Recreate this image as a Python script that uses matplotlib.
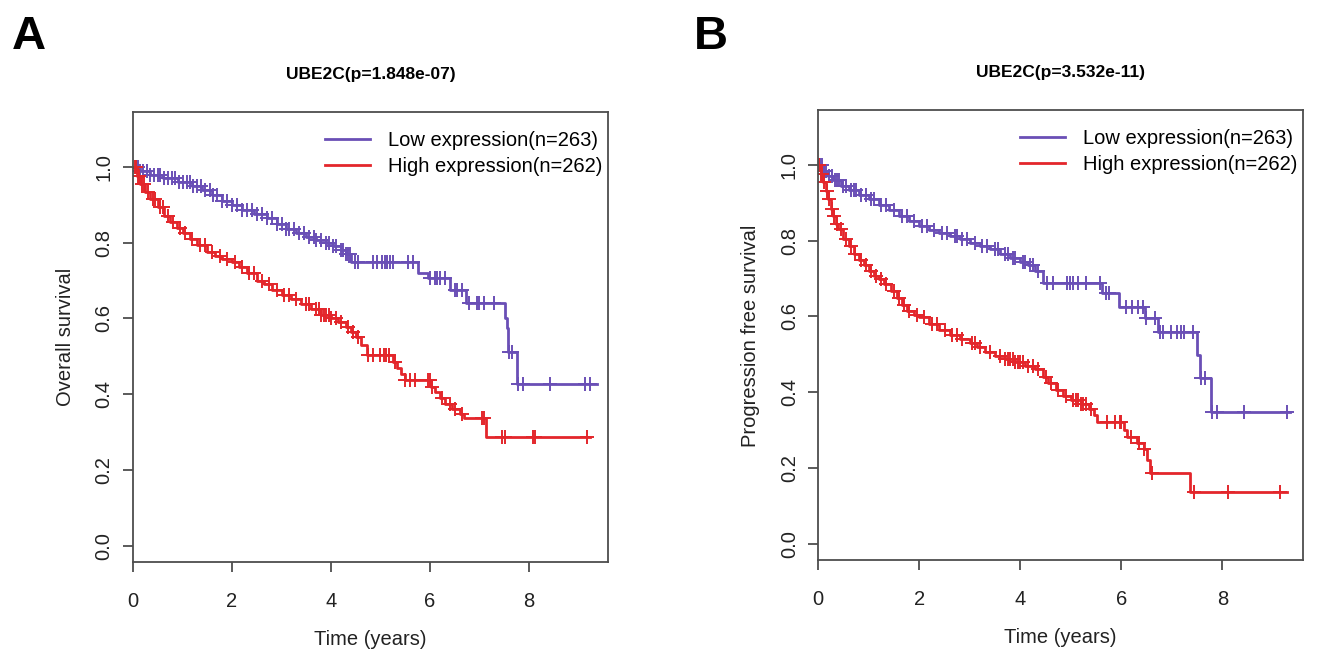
import numpy as np
import matplotlib
matplotlib.use("Agg")
import matplotlib.pyplot as plt

plt.rcParams['font.family'] = ['Liberation Sans', 'DejaVu Sans']

LOW_COLOR = '#6A4FB6'
HIGH_COLOR = '#E3262B'

# ---------------- Panel A: overall survival ----------------
a_title = "UBE2C(p=1.848e-07)"
a_ylabel = "Overall survival"
a_low_t = [0, 0.15, 0.35, 0.6, 0.9, 1.2, 1.4, 1.6, 1.8, 2.0, 2.2, 2.45, 2.7, 2.9, 3.1, 3.3,
           3.5, 3.7, 3.9, 4.05, 4.2, 4.3, 4.4, 5.75, 5.97, 6.4, 6.72, 7.52, 7.55, 7.58, 7.75, 9.37]
a_low_s = [1.0, 0.99, 0.98, 0.97, 0.96, 0.95, 0.94, 0.925, 0.91, 0.90, 0.886, 0.875, 0.866, 0.85,
           0.835, 0.825, 0.815, 0.808, 0.80, 0.79, 0.78, 0.77, 0.75, 0.72, 0.706, 0.675, 0.64,
           0.60, 0.575, 0.512, 0.427, 0.427]
a_low_cens = [0.05, 0.1, 0.15, 0.2, 0.28, 0.35, 0.42, 0.5, 0.55, 0.62, 0.7, 0.78, 0.85, 0.92, 1.0,
              1.08, 1.15, 1.22, 1.3, 1.38, 1.45, 1.55, 1.62, 1.7, 1.8, 1.9, 2.0, 2.1, 2.2, 2.3, 2.4,
              2.5, 2.6, 2.7, 2.8, 2.9, 3.0, 3.1, 3.15, 3.25, 3.35, 3.45, 3.55, 3.65, 3.7, 3.8, 3.9,
              3.95, 4.05, 4.1, 4.2, 4.25, 4.3, 4.35, 4.38, 4.48, 4.55, 4.85, 4.93, 5.03, 5.09, 5.13,
              5.19, 5.25, 5.56, 5.66, 6.0, 6.1, 6.15, 6.2, 6.3, 6.5, 6.55, 6.65, 6.78, 6.95, 7.0,
              7.1, 7.3, 7.6, 7.65, 7.78, 7.88, 8.42, 9.13, 9.23]
a_high_t = [0, 0.08, 0.15, 0.25, 0.35, 0.5, 0.62, 0.75, 0.88, 1.0, 1.15, 1.3, 1.5, 1.65, 1.8, 2.0,
            2.15, 2.3, 2.5, 2.65, 2.8, 3.0, 3.2, 3.4, 3.6, 3.8, 4.0, 4.15, 4.3, 4.4, 4.5, 4.6, 4.72,
            5.26, 5.33, 5.42, 5.5, 6.02, 6.1, 6.2, 6.3, 6.45, 6.6, 6.68, 7.14, 9.23]
a_high_s = [1.0, 0.975, 0.955, 0.935, 0.915, 0.895, 0.87, 0.855, 0.84, 0.825, 0.81, 0.795, 0.775,
            0.765, 0.757, 0.748, 0.735, 0.72, 0.70, 0.69, 0.675, 0.663, 0.652, 0.638, 0.625, 0.61,
            0.60, 0.59, 0.578, 0.565, 0.55, 0.53, 0.503, 0.485, 0.468, 0.452, 0.437, 0.42, 0.405,
            0.39, 0.375, 0.36, 0.348, 0.336, 0.288, 0.288]
a_high_cens = [0.03, 0.06, 0.1, 0.13, 0.18, 0.22, 0.3, 0.4, 0.45, 0.55, 0.6, 0.7, 0.8, 0.95, 1.05,
               1.2, 1.35, 1.45, 1.6, 1.75, 1.9, 2.05, 2.2, 2.35, 2.45, 2.6, 2.75, 2.9, 3.05, 3.15,
               3.3, 3.5, 3.55, 3.7, 3.75, 3.8, 3.85, 3.9, 3.95, 4.0, 4.1, 4.2, 4.35, 4.45, 4.55,
               4.75, 4.85, 5.0, 5.07, 5.12, 5.17, 5.3, 5.5, 5.6, 5.7, 5.96, 6.0, 6.05, 6.25, 6.4,
               6.5, 6.65, 7.05, 7.1, 7.45, 7.52, 8.09, 8.12, 9.17]

# ---------------- Panel B: progression free survival ----------------
b_title = "UBE2C(p=3.532e-11)"
b_ylabel = "Progression free survival"
b_low_t = [0, 0.1, 0.2, 0.3, 0.45, 0.6, 0.8, 1.0, 1.2, 1.4, 1.6, 1.8, 2.0, 2.2, 2.4, 2.6, 2.8, 3.0,
           3.2, 3.4, 3.6, 3.8, 4.0, 4.15, 4.3, 4.45, 5.62, 5.95, 6.46, 6.72, 7.5, 7.55, 7.77, 9.34]
b_low_s = [1.0, 0.985, 0.97, 0.96, 0.945, 0.935, 0.92, 0.91, 0.895, 0.88, 0.865, 0.852, 0.84,
           0.828, 0.82, 0.812, 0.805, 0.795, 0.785, 0.778, 0.765, 0.755, 0.745, 0.735, 0.72,
           0.688, 0.661, 0.626, 0.596, 0.56, 0.499, 0.437, 0.349, 0.349]
b_low_cens = [0.04, 0.08, 0.12, 0.16, 0.22, 0.27, 0.33, 0.38, 0.42, 0.5, 0.55, 0.65, 0.7, 0.75,
              0.85, 0.95, 1.05, 1.1, 1.25, 1.35, 1.5, 1.65, 1.75, 1.9, 2.05, 2.15, 2.3, 2.45, 2.55,
              2.7, 2.75, 2.85, 2.95, 3.1, 3.25, 3.35, 3.5, 3.55, 3.7, 3.75, 3.85, 3.9, 4.05, 4.1,
              4.2, 4.25, 4.35, 4.52, 4.65, 4.92, 4.99, 5.05, 5.15, 5.31, 5.58, 5.7, 5.75, 6.09,
              6.22, 6.32, 6.42, 6.49, 6.66, 6.76, 6.82, 6.98, 7.11, 7.18, 7.24, 7.41, 7.58, 7.65,
              7.79, 7.89, 8.42, 9.28]
b_high_t = [0, 0.05, 0.1, 0.15, 0.2, 0.25, 0.3, 0.35, 0.4, 0.5, 0.6, 0.7, 0.8, 0.9, 1.0, 1.1, 1.2,
            1.3, 1.45, 1.55, 1.65, 1.75, 1.9, 2.0, 2.2, 2.4, 2.6, 2.8, 3.0, 3.15, 3.3, 3.5, 3.7,
            3.9, 4.1, 4.3, 4.45, 4.55, 4.7, 4.85, 5.0, 5.2, 5.35, 5.45, 5.51, 6.05, 6.12, 6.3,
            6.44, 6.5, 6.57, 7.35, 9.28]
b_high_s = [1.0, 0.975, 0.955, 0.93, 0.91, 0.885, 0.865, 0.845, 0.83, 0.805, 0.785, 0.765, 0.75,
            0.735, 0.72, 0.708, 0.698, 0.685, 0.668, 0.648, 0.63, 0.615, 0.605, 0.598, 0.58,
            0.563, 0.55, 0.54, 0.53, 0.52, 0.505, 0.495, 0.488, 0.48, 0.47, 0.462, 0.44, 0.425,
            0.405, 0.39, 0.38, 0.37, 0.355, 0.34, 0.322, 0.30, 0.283, 0.265, 0.25, 0.221, 0.186,
            0.137, 0.137]
b_high_cens = [0.02, 0.05, 0.08, 0.12, 0.18, 0.22, 0.28, 0.32, 0.38, 0.45, 0.55, 0.65, 0.72, 0.85,
               0.95, 1.05, 1.15, 1.25, 1.35, 1.5, 1.6, 1.7, 1.8, 1.95, 2.1, 2.25, 2.35, 2.5, 2.65,
               2.75, 2.85, 3.05, 3.1, 3.2, 3.4, 3.6, 3.7, 3.75, 3.8, 3.85, 3.9, 3.95, 4.0, 4.05,
               4.15, 4.25, 4.35, 4.5, 4.6, 4.75, 4.9, 5.05, 5.1, 5.15, 5.2, 5.25, 5.3, 5.4, 5.71,
               5.88, 5.97, 6.0, 6.2, 6.35, 6.45, 6.6, 7.43, 8.12, 9.14]

legend_labels = ["Low expression(n=263)", "High expression(n=262)"]
x_ticks = [0, 2, 4, 6, 8]
y_ticks = [0.0, 0.2, 0.4, 0.6, 0.8, 1.0]
xlabel = "Time (years)"

GRAY = '#4d4d4d'
FS = 14.5


def step_value(t_knots, s_knots, t):
    t_knots = np.asarray(t_knots)
    s_knots = np.asarray(s_knots)
    idx = np.searchsorted(t_knots, np.asarray(t), side='right') - 1
    idx = np.clip(idx, 0, len(s_knots) - 1)
    return s_knots[idx]


def km_panel(ax, title, ylabel, low_t, low_s, low_c, high_t, high_s, high_c):
    for t, s, c, col, lab in [(low_t, low_s, low_c, LOW_COLOR, legend_labels[0]),
                              (high_t, high_s, high_c, HIGH_COLOR, legend_labels[1])]:
        ax.plot(t, s, drawstyle='steps-post', color=col, lw=2.0, label=lab)
        ax.plot(c, step_value(t, s, c), linestyle='none', marker='+', color=col,
                markersize=10, markeredgewidth=1.4)
    ax.set_xlim(0, 9.6)
    ax.set_ylim(-0.044, 1.144)
    ax.set_xticks(x_ticks)
    ax.set_yticks(y_ticks)
    ax.set_yticklabels([f"{v:.1f}" for v in y_ticks], rotation=90, va='center')
    ax.tick_params(axis='both', direction='out', length=7, width=1.3, color=GRAY,
                   labelsize=FS, labelcolor='#222222')
    ax.tick_params(axis='x', pad=14)
    ax.tick_params(axis='y', pad=7)
    for sp in ax.spines.values():
        sp.set_color(GRAY)
        sp.set_linewidth(1.3)
    ax.set_xlabel(xlabel, fontsize=FS, labelpad=14, color='#222222')
    ax.set_ylabel(ylabel, fontsize=FS, labelpad=14, color='#222222')
    ax.set_title(title, fontsize=12.5, fontweight='bold', pad=24)
    leg = ax.legend(loc='upper right', frameon=False, fontsize=FS, handlelength=2.2,
                    handletextpad=0.9, borderaxespad=0.0, borderpad=0.3, labelspacing=0.35,
                    bbox_to_anchor=(1.0, 0.972))
    for line in leg.get_lines():
        line.set_linewidth(2.0)


fig = plt.figure(figsize=(13.24, 6.53), dpi=100)
axA = fig.add_axes([0.1005, 0.1388, 0.3588, 0.6891])
axB = fig.add_axes([0.618, 0.1418, 0.3663, 0.6891])

km_panel(axA, a_title, a_ylabel, a_low_t, a_low_s, a_low_cens, a_high_t, a_high_s, a_high_cens)
km_panel(axB, b_title, b_ylabel, b_low_t, b_low_s, b_low_cens, b_high_t, b_high_s, b_high_cens)

fig.text(0.009, 0.977, "A", fontsize=34, fontweight='bold', va='top', ha='left')
fig.text(0.524, 0.977, "B", fontsize=34, fontweight='bold', va='top', ha='left')

fig.savefig("out.png", dpi=100)
